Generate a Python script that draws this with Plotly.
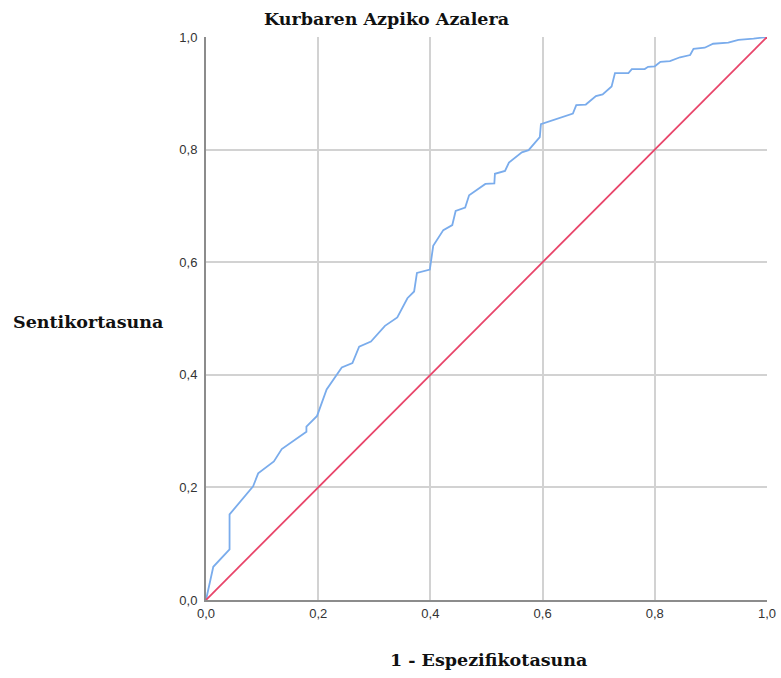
import plotly.graph_objects as go

# ROC curve (1 - specificity, sensitivity)
fpr = [0.0, 0.013, 0.042, 0.042, 0.084, 0.093, 0.121, 0.135, 0.179, 0.179, 0.198, 0.215,
       0.242, 0.261, 0.273, 0.294, 0.319, 0.341, 0.359, 0.371, 0.376, 0.399, 0.405, 0.423,
       0.439, 0.445, 0.462, 0.469, 0.498, 0.514, 0.515, 0.533, 0.540, 0.563, 0.575, 0.595,
       0.597, 0.654, 0.660, 0.677, 0.695, 0.707, 0.723, 0.729, 0.753, 0.759, 0.782, 0.788,
       0.800, 0.810, 0.827, 0.845, 0.863, 0.869, 0.889, 0.904, 0.931, 0.949, 0.976, 1.0]
tpr = [0.0, 0.059, 0.090, 0.152, 0.202, 0.225, 0.246, 0.268, 0.299, 0.308, 0.327, 0.374,
       0.413, 0.421, 0.450, 0.459, 0.487, 0.502, 0.536, 0.548, 0.581, 0.587, 0.629, 0.657,
       0.666, 0.691, 0.697, 0.719, 0.739, 0.740, 0.757, 0.762, 0.777, 0.795, 0.799, 0.822,
       0.845, 0.864, 0.879, 0.880, 0.895, 0.898, 0.912, 0.936, 0.936, 0.943, 0.943, 0.947,
       0.948, 0.956, 0.957, 0.964, 0.968, 0.979, 0.981, 0.988, 0.990, 0.995, 0.997, 1.0]

ref_x = [0.0, 1.0]
ref_y = [0.0, 1.0]

ticks = [0.0, 0.2, 0.4, 0.6, 0.8, 1.0]
tick_text = ["0,0", "0,2", "0,4", "0,6", "0,8", "1,0"]

title = "Kurbaren Azpiko Azalera"
x_title = "1 - Espezifikotasuna"
y_title = "Sentikortasuna"

fig = go.Figure()
fig.add_trace(go.Scatter(x=fpr, y=tpr, mode="lines",
                         line=dict(color="#7aacec", width=1.8), showlegend=False))
fig.add_trace(go.Scatter(x=ref_x, y=ref_y, mode="lines",
                         line=dict(color="#e8456a", width=1.8), showlegend=False))

serif = "DejaVu Serif, serif"
tfont = dict(family=serif, size=17.5, color="#111")
fig.update_layout(
    width=781, height=678,
    margin=dict(l=206, r=14, t=37, b=78, autoexpand=False),
    paper_bgcolor="white", plot_bgcolor="white",
    showlegend=False,
    annotations=[
        dict(text="<b>" + title + "</b>", xref="paper", yref="paper",
             x=(386 - 206) / 561, y=(600 - 19) / 563,
             xanchor="center", yanchor="middle", showarrow=False, font=tfont),
        dict(text="<b>" + x_title + "</b>", xref="paper", yref="paper",
             x=(488 - 206) / 561, y=(600 - 660) / 563,
             xanchor="center", yanchor="middle", showarrow=False, font=tfont),
        dict(text="<b>" + y_title + "</b>", xref="paper", yref="paper",
             x=(11 - 206) / 561, y=(600 - 322) / 563,
             xanchor="left", yanchor="middle", showarrow=False, font=tfont),
    ],
)

axfont = dict(family="Liberation Sans, Arial, sans-serif", size=13, color="#333")
fig.update_xaxes(range=[0, 1], tickvals=ticks, ticktext=tick_text, automargin=False,
                 showgrid=True, gridcolor="#d2d2d2", gridwidth=2,
                 showline=True, linecolor="#8c8c8c", linewidth=2,
                 ticks="", zeroline=False, tickfont=axfont)
fig.update_yaxes(range=[0, 1], tickvals=ticks, ticktext=tick_text, automargin=False,
                 showgrid=True, gridcolor="#d2d2d2", gridwidth=2,
                 showline=True, linecolor="#8c8c8c", linewidth=2,
                 ticks="", zeroline=False, ticklabelstandoff=4, tickfont=axfont)

fig.write_html("out.html")
